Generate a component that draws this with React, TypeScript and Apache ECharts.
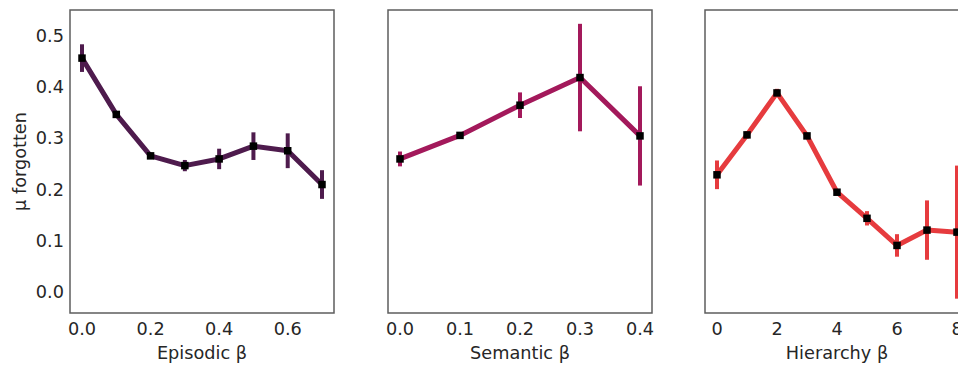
import React, { useEffect, useRef } from "react";
import * as echarts from "echarts";

const episodicBeta = [0, 0.1, 0.2, 0.3, 0.4, 0.5, 0.6, 0.7];
const episodicMean = [0.457, 0.347, 0.266, 0.247, 0.26, 0.285, 0.276, 0.21];
const episodicErr = [0.027, 0.004, 0.006, 0.011, 0.02, 0.027, 0.034, 0.028];

const semanticBeta = [0, 0.1, 0.2, 0.3, 0.4];
const semanticMean = [0.26, 0.306, 0.365, 0.419, 0.305];
const semanticErr = [0.0145, 0.003, 0.025, 0.105, 0.097];

const hierarchyBeta = [0, 1, 2, 3, 4, 5, 6, 7, 8];
const hierarchyMean = [0.229, 0.307, 0.389, 0.305, 0.195, 0.144, 0.091, 0.121, 0.117];
const hierarchyErr = [0.028, 0.007, 0.008, 0.005, 0.006, 0.014, 0.022, 0.058, 0.13];

const yTicks = [0, 0.1, 0.2, 0.3, 0.4, 0.5];
const episodicTicks = [0, 0.2, 0.4, 0.6];
const semanticTicks = [0, 0.1, 0.2, 0.3, 0.4];
const hierarchyTicks = [0, 2, 4, 6, 8];

const FONT = "DejaVu Sans";
const TEXT = "#262626";
const FS = 17.7;

const panels = [
  { name: "Episodic β", xs: episodicBeta, mean: episodicMean, err: episodicErr, ticks: episodicTicks, min: -0.035, max: 0.735, dec: 1, color: "#4e1b4d", left: 70 },
  { name: "Semantic β", xs: semanticBeta, mean: semanticMean, err: semanticErr, ticks: semanticTicks, min: -0.02, max: 0.42, dec: 1, color: "#a3195b", left: 388 },
  { name: "Hierarchy β", xs: hierarchyBeta, mean: hierarchyMean, err: hierarchyErr, ticks: hierarchyTicks, min: -0.4, max: 8.4, dec: 0, color: "#e63b3e", left: 705 },
];

export default function App() {
  const ref = useRef<HTMLDivElement>(null);
  useEffect(() => {
    if (!ref.current) return;
    const chart = echarts.init(ref.current, undefined, { renderer: "svg" });
    const grid: any[] = [];
    const xAxis: any[] = [];
    const yAxis: any[] = [];
    const series: any[] = [];
    panels.forEach((p, i) => {
      grid.push({
        left: p.left,
        top: 10,
        width: 264,
        height: 307,
        show: true,
        borderColor: "#5e5e5e",
        borderWidth: 1.5,
        backgroundColor: "#fff",
      });
      xAxis.push({
        type: "value",
        gridIndex: i,
        min: p.min,
        max: p.max,
        name: p.name,
        nameLocation: "middle",
        nameGap: 31,
        nameTextStyle: { fontFamily: FONT, fontSize: FS, color: TEXT },
        axisLine: { show: false },
        axisTick: { show: false },
        splitLine: { show: false },
        axisLabel: {
          customValues: p.ticks,
          fontFamily: FONT,
          fontSize: FS,
          color: TEXT,
          margin: 6.5,
          formatter: (v: number) => v.toFixed(p.dec),
        },
      });
      yAxis.push({
        type: "value",
        gridIndex: i,
        min: -0.041,
        max: 0.551,
        name: i === 0 ? "μ forgotten" : "",
        nameLocation: "middle",
        nameGap: 41.5,
        nameTextStyle: { fontFamily: FONT, fontSize: FS, color: TEXT },
        axisLine: { show: false },
        axisTick: { show: false },
        splitLine: { show: false },
        axisLabel: {
          show: i === 0,
          customValues: yTicks,
          fontFamily: FONT,
          fontSize: FS,
          color: TEXT,
          margin: 6,
          formatter: (v: number) => v.toFixed(1),
        },
      });
      const color = p.color;
      series.push({
        type: "custom",
        xAxisIndex: i,
        yAxisIndex: i,
        z: 2,
        data: p.xs.map((x, k) => [x, p.mean[k] - p.err[k], p.mean[k] + p.err[k]]),
        encode: { x: 0, y: [1, 2] },
        renderItem: (params: any, api: any) => {
          const a = api.coord([api.value(0), api.value(1)]);
          const b = api.coord([api.value(0), api.value(2)]);
          return {
            type: "line",
            shape: { x1: a[0], y1: a[1], x2: b[0], y2: b[1] },
            style: { stroke: color, lineWidth: 4 },
          };
        },
      });
      series.push({
        type: "line",
        xAxisIndex: i,
        yAxisIndex: i,
        z: 3,
        data: p.xs.map((x, k) => [x, p.mean[k]]),
        symbol: "rect",
        symbolSize: 7.5,
        showSymbol: true,
        itemStyle: { color: "#000" },
        lineStyle: { color, width: 5 },
      });
    });
    chart.setOption({
      animation: false,
      backgroundColor: "#fff",
      grid,
      xAxis,
      yAxis,
      series,
    });
    return () => chart.dispose();
  }, []);
  return (
    <div style={{ position: "fixed", left: 0, top: 0, width: 958, height: 367, overflow: "hidden", background: "#fff" }}>
      <div ref={ref} style={{ width: 1000, height: 367 }} />
    </div>
  );
}
